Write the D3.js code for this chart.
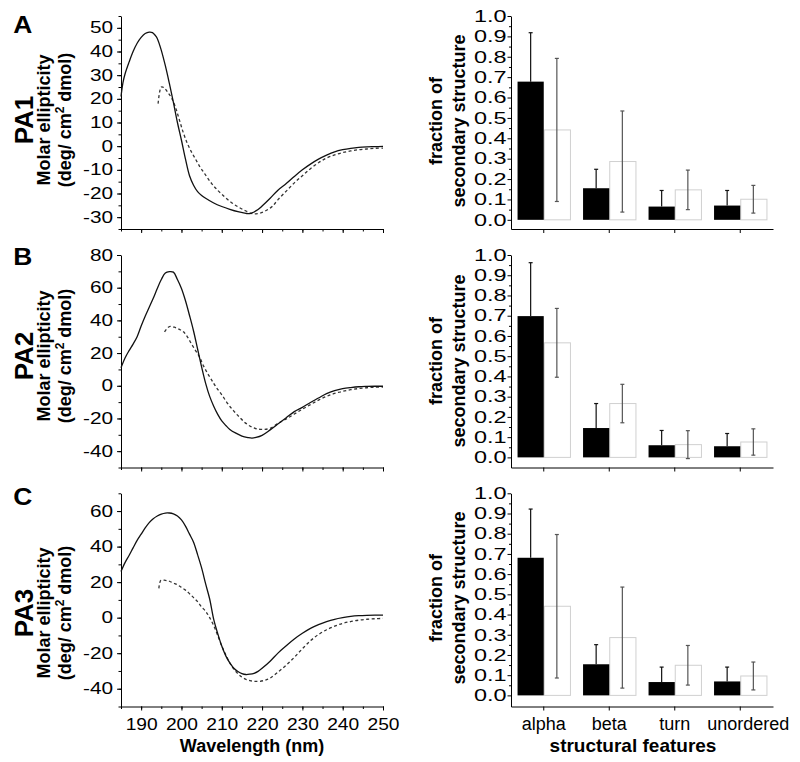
<!DOCTYPE html>
<html><head><meta charset="utf-8">
<script src="https://cdn.jsdelivr.net/npm/d3@7"></script>
<style>
body{margin:0;background:#fff;}
svg text{font-family:"Liberation Sans", Arial, Helvetica, sans-serif; fill:#000;}
</style></head><body>
<svg id="chart" width="800" height="762"></svg>
<script>
// ---------- DATA ----------
const panelLetters = ["A", "B", "C"];
const peptideNames = ["PA1", "PA2", "PA3"];
const wavelengthTicks = [190, 200, 210, 220, 230, 240, 250];
const pa1TicksY = [-30, -20, -10, 0, 10, 20, 30, 40, 50];
const pa2TicksY = [-40, -20, 0, 20, 40, 60, 80];
const pa3TicksY = [-40, -20, 0, 20, 40, 60];
const fractionTicks = [0, 0.1, 0.2, 0.3, 0.4, 0.5, 0.6, 0.7, 0.8, 0.9, 1.0];
const structureCategories = ["alpha", "beta", "turn", "unordered"];

// CD spectra [wavelength nm, molar ellipticity]
const pa1Solid = [[185,21],[185.5,27],[186,30.5],[187,35.5],[188,40],[189,43.5],[190,46],[191,47.6],[192,48.2],[192.8,48],[193.5,46.8],[194,45.5],[195,40.5],[196,34],[197,26.5],[198,18.5],[199,10],[200,2.5],[201,-5.5],[202,-12.5],[203,-16.5],[204,-19.2],[205,-20.8],[206,-22],[208,-24],[210,-25.5],[212,-26.7],[214,-27.7],[216,-28.4],[217,-28.5],[218,-27.8],[219,-26.8],[220,-25.3],[222,-22],[224,-18.5],[226,-15.8],[228,-12.8],[230,-10],[232,-7.6],[234,-5.5],[236,-3.8],[238,-2.4],[240,-1.5],[242,-0.9],[244,-0.5],[246,-0.3],[248,-0.2],[250,-0.1]];
const pa1Dashed = [[194.2,18],[194.6,23],[195,25],[195.6,24.8],[196.5,23],[197.5,20.5],[198.5,16.5],[199.5,11],[200.5,5.5],[201.5,1],[202.5,-2.5],[203.5,-5.5],[204.5,-8.5],[205.5,-11],[206.5,-13.5],[207.5,-15.8],[208.5,-17.8],[210,-20.3],[212,-23.3],[214,-25.6],[216,-27.4],[217.5,-28.5],[218.5,-28.6],[219.5,-28.3],[221,-27.2],[222.5,-25.5],[224,-22.5],[226,-19],[228,-15.5],[230,-12.5],[232,-9.5],[234,-7],[236,-5],[238,-3.7],[240,-2.7],[242,-2],[244,-1.5],[246,-1.2],[248,-0.9],[250,-0.8]];
const pa2Solid = [[185,11],[186,17],[187,21.5],[188,25.5],[189,30],[190,36.5],[191,42.5],[192,48],[193,53.5],[194,59.5],[195,65],[196,69],[197,69.8],[198,69.5],[199,65],[200,59.5],[201,52],[202,43],[203,33.5],[204,22.5],[205,11.5],[206,1.5],[207,-6.5],[208,-12.5],[209,-17.5],[210,-21.5],[211,-24.3],[212,-26.7],[213.5,-29],[215,-30.8],[216.5,-31.7],[217.5,-32],[218.5,-31.6],[220,-30.3],[222,-27],[224,-23.3],[226,-19.5],[228,-15.8],[230,-13.2],[232,-10.2],[234,-7.5],[236,-4.8],[238,-3],[240,-1.8],[242,-1.1],[244,-0.6],[246,-0.4],[248,-0.3],[250,-0.3]];
const pa2Dashed = [[195.8,33],[196.5,35.3],[197.2,36.3],[198.4,35.7],[199.5,34.5],[200.5,33],[201.5,29.8],[202.5,25.5],[203.5,21.5],[204.5,17.5],[205.5,12],[206.5,7.5],[207.5,3.5],[208.5,-0.5],[210,-5.5],[211.5,-11],[213,-15.5],[214.5,-19.5],[216,-23],[217.5,-25.3],[219,-26.5],[220.5,-26.7],[222,-26],[224,-23],[226,-20.3],[228,-17.3],[230,-14.3],[232,-11.5],[234,-8.8],[236,-6.5],[238,-4.7],[240,-3.4],[242,-2.4],[244,-1.7],[246,-1.2],[248,-0.9],[250,-0.8]];
const pa3Solid = [[185,26],[186,31],[187,35],[188,39.3],[189,43.5],[190,47],[191,50.5],[192,53.5],[193,55.7],[194,57.2],[195,58.3],[196,58.9],[197,58.9],[198,58.4],[199,57.2],[200,55],[201,51.5],[202,47],[203,42.5],[204,35.5],[205,28],[206,19],[207,10.5],[208,-1],[209,-9],[210,-16],[211,-21.5],[212,-25.5],[213,-28.5],[214,-30.3],[215,-31.5],[216,-32],[217,-31.8],[218,-31.3],[219,-30.2],[220,-28.5],[222,-24.5],[224,-19.8],[226,-15.8],[228,-12],[230,-8.8],[232,-6],[234,-3.9],[236,-2.2],[238,-0.9],[240,0],[242,0.7],[244,1.1],[246,1.3],[248,1.4],[250,1.4]];
const pa3Dashed = [[194.4,16.5],[194.9,21],[196,21],[197,20.5],[198,19.5],[199,18.5],[200,17],[201,15.5],[202,13.5],[203,11.3],[204,9],[205,6],[206,3.6],[207,0],[208,-4.5],[209,-10],[210,-16],[211,-21],[212,-25.5],[213,-29],[214,-31.5],[215,-33.5],[216,-34.7],[217,-35.4],[218,-35.8],[219.5,-35.8],[221,-35],[222,-34],[224,-30.5],[226,-26.7],[228,-22.3],[230,-17.5],[232,-13],[234,-9.5],[236,-6.8],[238,-4.8],[240,-3.2],[242,-2.2],[244,-1.4],[246,-0.9],[248,-0.6],[250,-0.4]];

// secondary structure fractions (black = filled, white = open) with error half-widths
const pa1Black = [0.678, 0.155, 0.065, 0.070];
const pa1BlackErr = [0.240, 0.093, 0.079, 0.074];
const pa1White = [0.441, 0.286, 0.147, 0.101];
const pa1WhiteErr = [0.351, 0.248, 0.097, 0.068];
const pa2Black = [0.698, 0.145, 0.060, 0.055];
const pa2BlackErr = [0.264, 0.121, 0.073, 0.063];
const pa2White = [0.566, 0.266, 0.063, 0.076];
const pa2WhiteErr = [0.170, 0.095, 0.069, 0.065];
const pa3Black = [0.681, 0.154, 0.066, 0.069];
const pa3BlackErr = [0.241, 0.097, 0.074, 0.071];
const pa3White = [0.441, 0.286, 0.149, 0.096];
const pa3WhiteErr = [0.355, 0.250, 0.098, 0.069];

// ---------- LAYOUT ----------
const solids = [pa1Solid, pa2Solid, pa3Solid];
const dasheds = [pa1Dashed, pa2Dashed, pa3Dashed];
const cdTicks = [pa1TicksY, pa2TicksY, pa3TicksY];
const cdDomains = [[-35, 55], [-50, 80], [-50, 70]];
const cdMinorStep = [5, 10, 10];
const fracDomains = [[-0.045, 1], [-0.05, 1], [-0.055, 1]];
const blacks = [pa1Black, pa2Black, pa3Black];
const blackErrs = [pa1BlackErr, pa2BlackErr, pa3BlackErr];
const whites = [pa1White, pa2White, pa3White];
const whiteErrs = [pa1WhiteErr, pa2WhiteErr, pa3WhiteErr];

const rowGeom = [{top: 16, bottom: 229}, {top: 255, bottom: 467.5}, {top: 493.3, bottom: 706.5}];
const L = {x0: 121, x1: 383};
const R = {x0: 511, x1: 773};
const leftTitleY = [120, 356, 613];
const rightTitleY = [121, 361, 598];
const letterY = [33, 265, 505];

const svg = d3.select("#chart");

function styleAxis(fs, sx) {
  return g => {
    g.select(".domain").attr("stroke", "#000").attr("stroke-width", 1);
    g.selectAll(".tick line").attr("stroke", "#000");
    g.selectAll(".tick text").attr("font-size", fs).attr("fill", "#000").each(function () {
      const t = d3.select(this);
      const x = +t.attr("x") || 0;
      t.attr("x", x / sx).attr("transform", `scale(${sx},1)`);
    });
  };
}

panelLetters.forEach((letter, i) => {
  const geo = rowGeom[i];

  // ---- left: CD spectrum ----
  const x = d3.scaleLinear().domain([185, 250]).range([L.x0, L.x1]);
  const y = d3.scaleLinear().domain(cdDomains[i]).range([geo.bottom, geo.top]);

  const minorY = d3.range(cdDomains[i][0], cdDomains[i][1] + 0.001, cdMinorStep[i]);
  svg.append("g").attr("transform", `translate(${L.x0},0)`)
    .call(d3.axisLeft(y).tickValues(minorY).tickSize(2.5).tickFormat(""))
    .call(g => g.select(".domain").remove())
    .call(g => g.selectAll(".tick line").attr("stroke", "#000"));
  svg.append("g").attr("transform", `translate(${L.x0},0)`)
    .call(d3.axisLeft(y).tickValues(cdTicks[i]).tickSize(4).tickSizeOuter(0).tickPadding(4).tickFormat(d => String(d)))
    .call(styleAxis(16, 1.3));

  const minorX = d3.range(185, 250.001, 5);
  svg.append("g").attr("transform", `translate(0,${geo.bottom})`)
    .call(d3.axisBottom(x).tickValues(minorX).tickSize(2.5).tickFormat(""))
    .call(g => g.select(".domain").remove())
    .call(g => g.selectAll(".tick line").attr("stroke", "#000"));
  svg.append("g").attr("transform", `translate(0,${geo.bottom})`)
    .call(d3.axisBottom(x).tickValues(wavelengthTicks).tickSize(4).tickSizeOuter(0).tickPadding(8)
      .tickFormat(i === 2 ? (d => String(d)) : ""))
    .call(styleAxis(16, 1.2));

  const line = d3.line().x(d => x(d[0])).y(d => y(d[1])).curve(d3.curveCatmullRom.alpha(0.5));
  svg.append("path").datum(dasheds[i]).attr("d", line)
    .attr("fill", "none").attr("stroke", "#333").attr("stroke-width", 1.3).attr("stroke-dasharray", "3,2.5");
  svg.append("path").datum(solids[i]).attr("d", line)
    .attr("fill", "none").attr("stroke", "#111").attr("stroke-width", 1.3);

  // titles
  svg.append("text").attr("x", 12).attr("y", letterY[i]).attr("font-size", 24).attr("font-weight", "bold")
    .attr("transform", "scale(1.1,1)").text(letter);
  svg.append("text").attr("transform", `translate(33,${leftTitleY[i]}) rotate(-90)`)
    .attr("text-anchor", "middle").attr("font-size", 26).attr("font-weight", "bold").text(peptideNames[i]);
  svg.append("text").attr("transform", `translate(50,${leftTitleY[i]}) rotate(-90)`)
    .attr("text-anchor", "middle").attr("font-size", 18).attr("font-weight", "bold").text("Molar ellipticity");
  const t2 = svg.append("text").attr("transform", `translate(71,${leftTitleY[i]}) rotate(-90)`)
    .attr("text-anchor", "middle").attr("font-size", 18).attr("font-weight", "bold");
  t2.append("tspan").text("(deg/ cm");
  t2.append("tspan").attr("font-size", 12).attr("dy", -7).text("2");
  t2.append("tspan").attr("dy", 7).text(" dmol)");

  // ---- right: secondary structure bars ----
  const xb = d3.scaleBand().domain(structureCategories).range([R.x0, R.x1]);
  const yb = d3.scaleLinear().domain(fracDomains[i]).range([geo.bottom, geo.top]);
  const bw = xb.bandwidth() * 0.4;
  const cx = c => xb(c) + xb.bandwidth() / 2;

  const minorF = d3.range(0.05, 1, 0.1);
  svg.append("g").attr("transform", `translate(${R.x0},0)`)
    .call(d3.axisLeft(yb).tickValues(minorF).tickSize(2).tickFormat(""))
    .call(g => g.select(".domain").remove())
    .call(g => g.selectAll(".tick line").attr("stroke", "#000"));
  svg.append("g").attr("transform", `translate(${R.x0},0)`)
    .call(d3.axisLeft(yb).tickValues(fractionTicks).tickSize(3.5).tickSizeOuter(0).tickPadding(1).tickFormat(d3.format(".1f")))
    .call(styleAxis(16.5, 1.42));
  svg.append("g").attr("transform", `translate(0,${geo.bottom})`)
    .call(d3.axisBottom(xb).tickSize(4).tickSizeOuter(0).tickPadding(7)
      .tickFormat(i === 2 ? (d => d) : ""))
    .call(styleAxis(18, 1))
    .call(g => g.selectAll(".tick text").attr("dx", d => d === "unordered" ? 8 : 0));

  const bars = svg.append("g");
  structureCategories.forEach((c, k) => {
    const vb = blacks[i][k], vw = whites[i][k];
    bars.append("rect").attr("x", cx(c) + 0.5).attr("y", yb(vw)).attr("width", bw)
      .attr("height", yb(0) - yb(vw)).attr("fill", "#fff").attr("stroke", "#d0d0d0").attr("stroke-width", 1);
    bars.append("rect").attr("x", cx(c) - bw).attr("y", yb(vb)).attr("width", bw)
      .attr("height", yb(0) - yb(vb)).attr("fill", "#000");
  });
  const errs = svg.append("g");
  const drawErr = (xc, yLo, yHi, col, capLo) => {
    errs.append("line").attr("x1", xc).attr("x2", xc).attr("y1", yLo).attr("y2", yHi).attr("stroke", col).attr("stroke-width", 1.2);
    const caps = capLo ? [yLo, yHi] : [yHi];
    caps.forEach(yy => errs.append("line").attr("x1", xc - 2).attr("x2", xc + 2).attr("y1", yy).attr("y2", yy).attr("stroke", col).attr("stroke-width", 1.2));
  };
  structureCategories.forEach((c, k) => {
    const vb = blacks[i][k], eb = blackErrs[i][k];
    const vw = whites[i][k], ew = whiteErrs[i][k];
    drawErr(cx(c) - bw / 2, yb(vb), yb(vb + eb), "#111", false);
    drawErr(cx(c) + bw / 2, yb(vw - ew), yb(vw + ew), "#555", true);
  });

  svg.append("text").attr("transform", `translate(442,${rightTitleY[i]}) rotate(-90)`)
    .attr("text-anchor", "middle").attr("font-size", 18).attr("font-weight", "bold").text("fraction of");
  svg.append("text").attr("transform", `translate(465,${rightTitleY[i]}) rotate(-90)`)
    .attr("text-anchor", "middle").attr("font-size", 18).attr("font-weight", "bold").text("secondary structure");
});

svg.append("text").attr("x", (L.x0 + L.x1) / 2).attr("y", 752).attr("text-anchor", "middle")
  .attr("font-size", 18).attr("font-weight", "bold").text("Wavelength (nm)");
svg.append("text").attr("x", 633).attr("y", 752).attr("text-anchor", "middle")
  .attr("font-size", 19).attr("font-weight", "bold").text("structural features");
</script>
</body></html>
